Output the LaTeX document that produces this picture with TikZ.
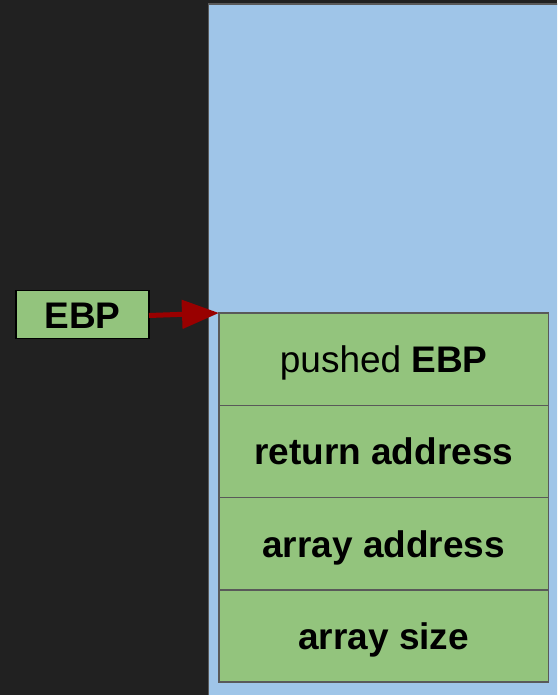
\documentclass[tikz,border=0pt]{standalone}
\usepackage{fontspec}
\setmainfont{Liberation Sans}
\usetikzlibrary{arrows.meta}
\definecolor{bgdark}{HTML}{212121}
\definecolor{stackblue}{HTML}{9FC5E8}
\definecolor{cellgreen}{HTML}{93C47D}
\definecolor{cellline}{HTML}{595959}
\definecolor{ptrred}{HTML}{990000}
\tikzset{
  boxtext/.style={font=\fontsize{37}{44}\selectfont, text height=33pt, text depth=6pt},
  cell/.style={boxtext, draw=cellline, line width=1.5pt, fill=cellgreen, minimum width=329.5pt,
    minimum height=92.25pt, inner sep=0pt, outer sep=0pt, anchor=north west},
  regbox/.style={boxtext, draw=black, line width=1.5pt, fill=cellgreen, minimum width=133pt,
    minimum height=48pt, inner sep=0pt, outer sep=0pt},
  pointer/.style={draw=ptrred, line width=5pt, -{Triangle[length=37pt,width=28pt]}}
}
\begin{document}
\begin{tikzpicture}[x=1pt,y=-1pt]
  \useasboundingbox (0,0) rectangle (557,695);
  \clip (0,0) rectangle (557,695);
  \fill[bgdark] (0,0) rectangle (557,695);
  % stack region
  \filldraw[fill=stackblue, draw=cellline, line width=1.5pt] (208.5,4) rectangle (580,720);
  % stack frame cells
  \node[cell] (c1) at (219,313) {pushed \textbf{EBP}};
  \node[cell] (c2) at (c1.south west) {\textbf{return address}};
  \node[cell] (c3) at (c2.south west) {\textbf{array address}};
  \node[cell] (c4) at (c3.south west) {\textbf{array size}};
  % base pointer register
  \node[regbox] (ebp) at (82.5,314.5) {\bfseries EBP};
  \draw[pointer] (ebp.east |- 0,315.5) -- (c1.north west);
\end{tikzpicture}
\end{document}
